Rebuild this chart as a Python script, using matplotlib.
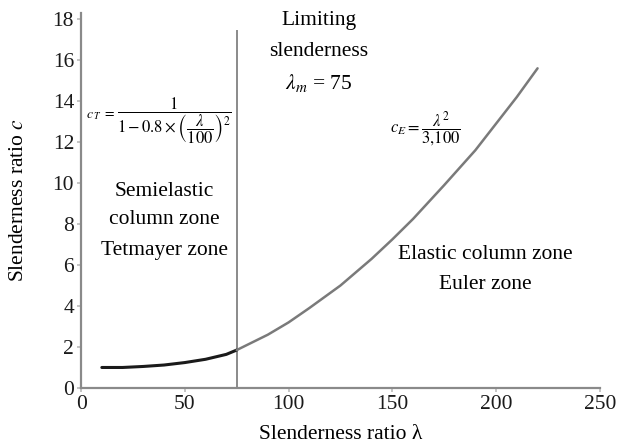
import matplotlib
matplotlib.use("Agg")
import matplotlib.pyplot as plt

# Data
lam_tetmayer = [10, 20, 30, 40, 50, 60, 70, 75]
c_tetmayer = [1.0, 1.0, 1.05, 1.12, 1.24, 1.40, 1.64, 1.85]
lam_euler = [75, 90, 100, 110, 125, 140, 150, 160, 175, 190, 200, 210, 220]
c_euler = [1.85, 2.6, 3.2, 3.9, 5.0, 6.3, 7.25, 8.25, 9.9, 11.6, 12.9, 14.2, 15.6]
lam_limit = 75
x_ticks = [0, 50, 100, 150, 200, 250]
y_ticks = [0, 2, 4, 6, 8, 10, 12, 14, 16, 18]

plt.rcParams['font.family'] = ['Liberation Serif', 'DejaVu Serif']
plt.rcParams['mathtext.fontset'] = 'stix'

fig = plt.figure(figsize=(6.19, 4.48), dpi=100)
ax = fig.add_axes([0.131, 0.134, 0.838, 0.837])

ax.plot(lam_tetmayer, c_tetmayer, color='#1a1a1a', lw=2.2, solid_capstyle='round', zorder=3)
ax.plot(lam_euler, c_euler, color='#7a7a7a', lw=1.8, solid_capstyle='round', zorder=3)
ax.plot([lam_limit, lam_limit], [0, 17.4], color='#8a8a8a', lw=1.4, zorder=2)

ax.set_xlim(0, 250)
ax.set_ylim(0, 18.3)
ax.set_xticks(x_ticks)
ax.set_yticks(y_ticks)
ax.tick_params(labelsize=15.5, colors='#bbbbbb', labelcolor='#1a1a1a', length=3, width=1.2, pad=2)
for s in ['top', 'right']:
    ax.spines[s].set_visible(False)
for s in ['left', 'bottom']:
    ax.spines[s].set_color('#8a8a8a')
    ax.spines[s].set_linewidth(1.6)

ax.set_xlabel('Slenderness ratio λ', fontsize=15.5, labelpad=8)
ax.set_ylabel('Slenderness ratio $\\it{c}$', fontsize=15.5, labelpad=18)

ax.text(114.5, 17.95, 'Limiting', ha='center', va='center', fontsize=15.5)
ax.text(114.5, 16.4, 'slenderness', ha='center', va='center', fontsize=15.5)
ax.text(114.5, 14.9, r'$\lambda_m$ = 75', ha='center', va='center', fontsize=15.5)

# Tetmayer formula
ax.text(9.5, 13.3, r'$c_{\,T}\ =$', ha='center', va='center', fontsize=10, zorder=5)
ax.text(45, 13.05,
        r'$\dfrac{1}{1-0.8\times\left(\dfrac{\lambda}{100}\right)^2}$',
        ha='center', va='center', fontsize=12, zorder=5)

ax.text(40, 9.6, 'Semielastic', ha='center', va='center', fontsize=15.5)
ax.text(40, 8.2, 'column zone', ha='center', va='center', fontsize=15.5)
ax.text(40, 6.7, 'Tetmayer zone', ha='center', va='center', fontsize=15.5)

ax.text(166, 12.6, r'$c_E=\dfrac{\lambda^2}{3{,}100}$', ha='center', va='center',
        fontsize=12, bbox=dict(facecolor='white', edgecolor='none', pad=2), zorder=5)

ax.text(195, 6.5, 'Elastic column zone', ha='center', va='center', fontsize=15.5)
ax.text(195, 5.05, 'Euler zone', ha='center', va='center', fontsize=15.5)

fig.savefig('out.png', dpi=100)
